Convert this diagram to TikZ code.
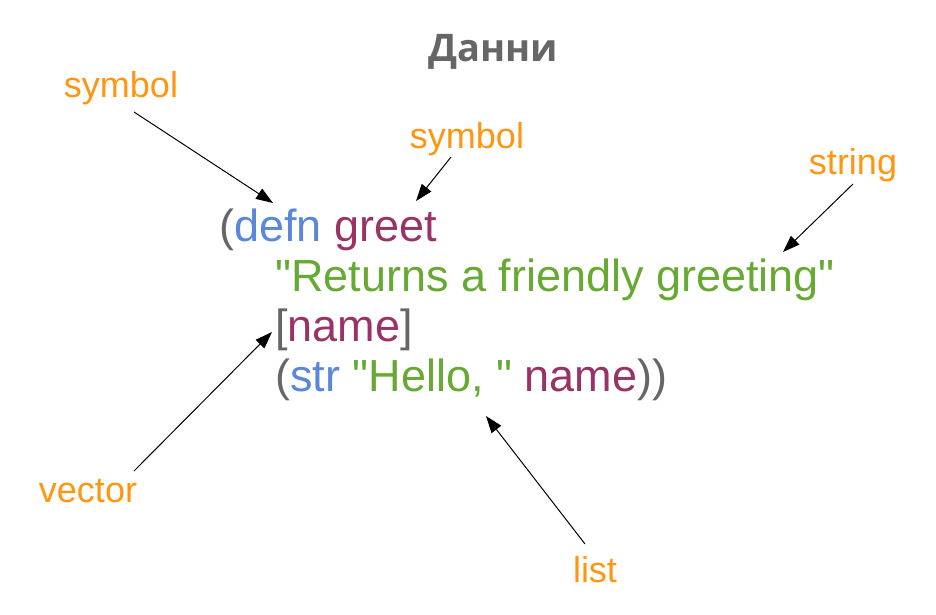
\documentclass[tikz,border=0pt]{standalone}
\usepackage{fontspec}
\setmainfont{Liberation Sans}
\newfontfamily\codefont{Liberation Sans}
\newfontfamily\titlefont{Open Sans}
\usetikzlibrary{arrows.meta}
\definecolor{cgrey}{HTML}{666666}
\definecolor{cblue}{HTML}{5A87DA}
\definecolor{cpurple}{HTML}{993366}
\definecolor{cgreen}{HTML}{66AA33}
\definecolor{corange}{HTML}{FF9511}
\definecolor{ctitle}{HTML}{666666}
\tikzset{
  code/.style={anchor=base west,inner sep=0pt,font=\codefont\fontsize{45}{50}\selectfont},
  lbl/.style={anchor=base,inner sep=0pt,text=corange,font=\fontsize{36}{40}\selectfont},
  ptr/.style={-{Triangle[length=17pt,width=12pt]},line width=1pt,black},
}
\begin{document}
\begin{tikzpicture}[x=1pt,y=-1pt]
\useasboundingbox (0,0) rectangle (936,615);
\node[anchor=base,inner sep=0pt,text=ctitle,font=\titlefont\bfseries\fontsize{38}{42}\selectfont] (title) at (493,62) {Данни};
\node[code] (l1) at (219,241) {\textcolor{cgrey}{(}\textcolor{cblue}{defn} \textcolor{cpurple}{greet}};
\node[code] (l2) at (275,291) {\textcolor{cgreen}{"Returns a friendly greeting"}};
\node[code] (l3) at (275,341) {\textcolor{cgrey}{[}\textcolor{cpurple}{name}\textcolor{cgrey}{]}};
\node[code] (l4) at (275,391) {\textcolor{cgrey}{(}\textcolor{cblue}{str} \textcolor{cgreen}{"Hello, "} \textcolor{cpurple}{name}\textcolor{cgrey}{))}};
\node[lbl] (s1) at (121,98) {symbol};
\node[lbl] (s2) at (467,148) {symbol};
\node[lbl] (st) at (853,174) {string};
\node[lbl] (ve) at (88,502) {vector};
\node[lbl] (li) at (595,582) {list};
\coordinate (s1a) at (134,112);
\coordinate (s1b) at (273,203);
\coordinate (s2a) at (451,157);
\coordinate (s2b) at (416,201);
\coordinate (sta) at (853,184);
\coordinate (stb) at (783,252);
\coordinate (vea) at (134,471);
\coordinate (veb) at (272,332);
\coordinate (lia) at (585,544);
\coordinate (lib) at (486,416);
\draw[ptr] (s1a) -- (s1b);
\draw[ptr] (s2a) -- (s2b);
\draw[ptr] (sta) -- (stb);
\draw[ptr] (vea) -- (veb);
\draw[ptr] (lia) -- (lib);
\end{tikzpicture}
\end{document}
